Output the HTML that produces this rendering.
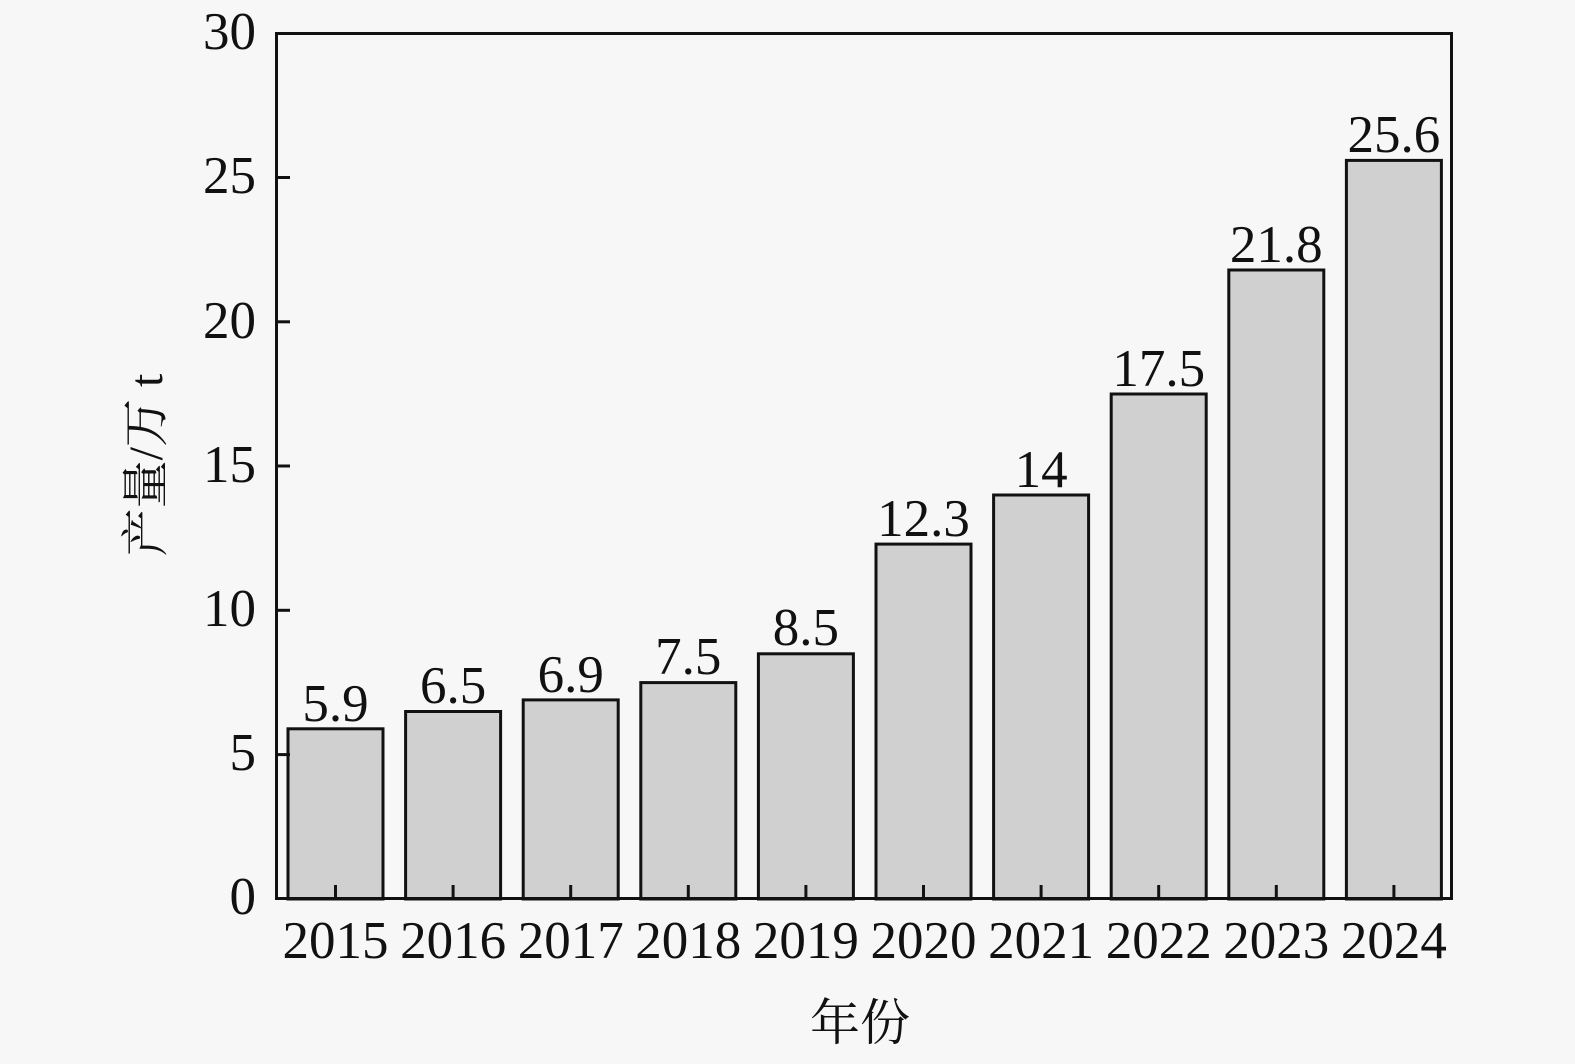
<!DOCTYPE html>
<html><head><meta charset="utf-8"><style>
html,body{margin:0;padding:0;background:#f7f7f7;}
svg{display:block;font-family:"Liberation Serif","Noto Serif CJK SC",serif;}
</style></head><body>
<svg width="1575" height="1064" xmlns="http://www.w3.org/2000/svg">
<rect width="1575" height="1064" fill="#f7f7f7"/>
<g fill="#d0d0d0" stroke="#111" stroke-width="3">
<rect x="288" y="728.8" width="95" height="170.2"/>
<rect x="405.6" y="711.5" width="95" height="187.5"/>
<rect x="523.2" y="699.9" width="95" height="199.1"/>
<rect x="640.8" y="682.6" width="95" height="216.4"/>
<rect x="758.4" y="653.8" width="95" height="245.2"/>
<rect x="876" y="544.1" width="95" height="354.9"/>
<rect x="993.6" y="495" width="95" height="404"/>
<rect x="1111.2" y="394" width="95" height="505"/>
<rect x="1228.8" y="270" width="95" height="629"/>
<rect x="1346.4" y="160.4" width="95" height="738.6"/>
</g>
<rect x="276.5" y="33.5" width="1175" height="865" fill="none" stroke="#111" stroke-width="3"/>
<g stroke="#111" stroke-width="3">
<line x1="276" y1="754.6" x2="290" y2="754.6"/>
<line x1="276" y1="610.3" x2="290" y2="610.3"/>
<line x1="276" y1="466" x2="290" y2="466"/>
<line x1="276" y1="321.8" x2="290" y2="321.8"/>
<line x1="276" y1="177.5" x2="290" y2="177.5"/>
<line x1="335.5" y1="899" x2="335.5" y2="885"/>
<line x1="453.1" y1="899" x2="453.1" y2="885"/>
<line x1="570.7" y1="899" x2="570.7" y2="885"/>
<line x1="688.3" y1="899" x2="688.3" y2="885"/>
<line x1="805.9" y1="899" x2="805.9" y2="885"/>
<line x1="923.5" y1="899" x2="923.5" y2="885"/>
<line x1="1041.1" y1="899" x2="1041.1" y2="885"/>
<line x1="1158.7" y1="899" x2="1158.7" y2="885"/>
<line x1="1276.3" y1="899" x2="1276.3" y2="885"/>
<line x1="1393.9" y1="899" x2="1393.9" y2="885"/>
</g>
<g font-size="53" fill="#111" text-anchor="end">
<text x="256" y="914">0</text>
<text x="256" y="770">5</text>
<text x="256" y="626">10</text>
<text x="256" y="482">15</text>
<text x="256" y="338">20</text>
<text x="256" y="193">25</text>
<text x="256" y="49">30</text>
</g>
<g font-size="53" fill="#111" text-anchor="middle">
<text x="335.5" y="958">2015</text>
<text x="453.1" y="958">2016</text>
<text x="570.7" y="958">2017</text>
<text x="688.3" y="958">2018</text>
<text x="805.9" y="958">2019</text>
<text x="923.5" y="958">2020</text>
<text x="1041.1" y="958">2021</text>
<text x="1158.7" y="958">2022</text>
<text x="1276.3" y="958">2023</text>
<text x="1393.9" y="958">2024</text>
<text x="335.5" y="721">5.9</text>
<text x="453.1" y="703">6.5</text>
<text x="570.7" y="692">6.9</text>
<text x="688.3" y="674">7.5</text>
<text x="805.9" y="645">8.5</text>
<text x="923.5" y="536">12.3</text>
<text x="1041.1" y="487">14</text>
<text x="1158.7" y="386">17.5</text>
<text x="1276.3" y="262">21.8</text>
<text x="1393.9" y="152">25.6</text>
<text x="860" y="1040" font-size="50">年份</text>
<text transform="translate(162,465) rotate(-90)" font-size="48">产量/万 t</text>
</g>
</svg>
</body></html>
